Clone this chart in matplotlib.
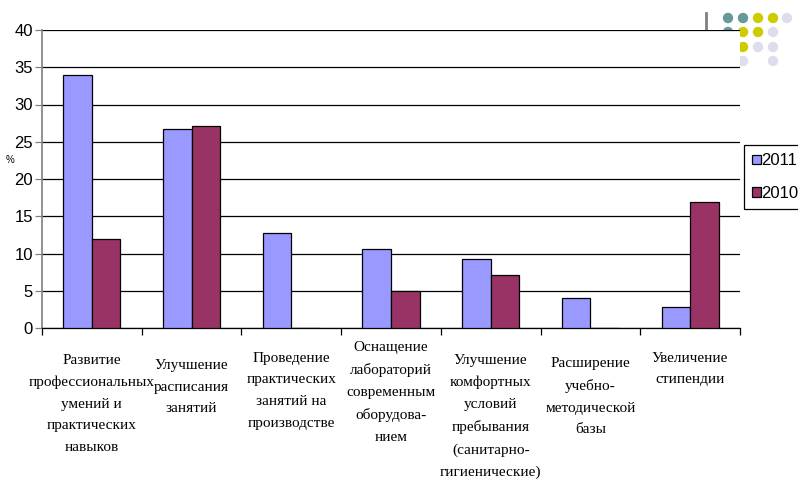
import numpy as np
import matplotlib
matplotlib.use('Agg')
from matplotlib import pyplot as plt
from matplotlib.patches import Circle
from matplotlib import transforms

# data
categories = [
	'Развитие\nпрофессиональных\nумений и\nпрактических\nнавыков',
	'Улучшение\nрасписания\nзанятий',
	'Проведение\nпрактических\nзанятий на\nпроизводстве',
	'Оснащение\nлабораторий\nсовременным\nоборудова-\nнием',
	'Улучшение\nкомфортных\nусловий\nпребывания\n(санитарно-\nгигиенические)',
	'Расширение\nучебно-\nметодической\nбазы',
	'Увеличение\nстипендии',
]
values_2011 = [34, 26.7, 12.8, 10.6, 9.3, 4.0, 2.8]
values_2010 = [12, 27.1, 0, 5.0, 7.1, 0, 16.9]
series_names = ['2011', '2010']
yticks = [0, 5, 10, 15, 20, 25, 30, 35, 40]

# label nudges (pixels below axis) to mimic the slide layout
label_drop = [26, 31, 24, 13, 26, 29, 24]

col_2011 = '#9999FF'
col_2010 = '#993366'
num_font = ['Liberation Sans', 'DejaVu Sans']
cat_font = ['Liberation Serif', 'DejaVu Serif']

fig = plt.figure(figsize=(7.98, 4.96), dpi=100)
fig.patch.set_facecolor('white')

# decorative dots in the corner (drawn behind the chart)
deco = fig.add_axes([0, 0, 1, 1], zorder=0)
deco.set_xlim(0, 798)
deco.set_ylim(496, 0)
deco.axis('off')
dot_x = [728, 743, 758, 773, 787, 728, 743, 758, 773, 743, 758, 773, 743, 773]
dot_y = [18, 18, 18, 18, 18, 32, 32, 32, 32, 47, 47, 47, 61, 61]
dot_c = ['#669999', '#669999', '#CCCC00', '#CCCC00', '#DDDDEE',
	'#669999', '#CCCC00', '#CCCC00', '#DDDDEE',
	'#CCCC00', '#DDDDEE', '#DDDDEE',
	'#DDDDEE', '#DDDDEE']
for x, y, c in zip(dot_x, dot_y, dot_c):
	deco.add_patch(Circle((x, y), 5.2, color=c, lw=0))
deco.plot([705.7, 705.7], [13, 29.5], color='#808080', lw=2)

ax = fig.add_axes([42/798, 1-328/496, 698/798, 298/496], zorder=1)
ax.set_facecolor('white')

x = np.arange(len(categories))
w = 0.287
ax.bar(x - w/2, values_2011, w, color=col_2011, edgecolor='black', linewidth=0.9, label=series_names[0], zorder=3)
ax.bar(x + w/2, values_2010, w, color=col_2010, edgecolor='black', linewidth=0.9, label=series_names[1], zorder=3)

ax.set_xlim(-0.5, len(categories) - 0.5)
ax.set_ylim(0, 40)
ax.set_yticks(yticks)
ax.set_yticklabels([str(t) for t in yticks], fontfamily=num_font, fontsize=12)
ax.yaxis.grid(True, color='black', linewidth=0.9, zorder=0)
ax.set_axisbelow(True)
ax.tick_params(axis='y', direction='out', length=5, width=0.9, color='#808080', pad=1.5)

ax.set_xticks(np.arange(len(categories) + 1) - 0.5)
ax.set_xticklabels([])
ax.tick_params(axis='x', direction='out', length=5, width=0.9, color='black')

for s in ['top', 'right']:
	ax.spines[s].set_visible(False)
ax.spines['left'].set_color('#808080')
ax.spines['left'].set_linewidth(1.2)
ax.spines['bottom'].set_color('black')
ax.spines['bottom'].set_linewidth(0.9)

for i, lab in enumerate(categories):
	tr = transforms.blended_transform_factory(ax.transData, ax.transAxes) + \
		transforms.ScaledTranslation(0, -label_drop[i]/100, fig.dpi_scale_trans)
	ax.text(i, 0, lab, transform=tr, ha='center', va='top', multialignment='center',
		fontfamily=cat_font, fontsize=11, linespacing=1.85)

fig.text(10/798, 1-160/496, '%', fontsize=7, fontfamily=num_font, ha='center', va='center')

leg = ax.legend(loc='upper left', bbox_to_anchor=(744/798, 1-145/496), bbox_transform=fig.transFigure,
	frameon=True, fancybox=False, edgecolor='black', framealpha=1, borderpad=0.5,
	handlelength=0.5, handleheight=0.5, handletextpad=0.05, labelspacing=1.05,
	prop={'family': num_font, 'size': 12}, borderaxespad=0)
leg.get_frame().set_linewidth(0.9)

fig.savefig('out.png', dpi=100)
